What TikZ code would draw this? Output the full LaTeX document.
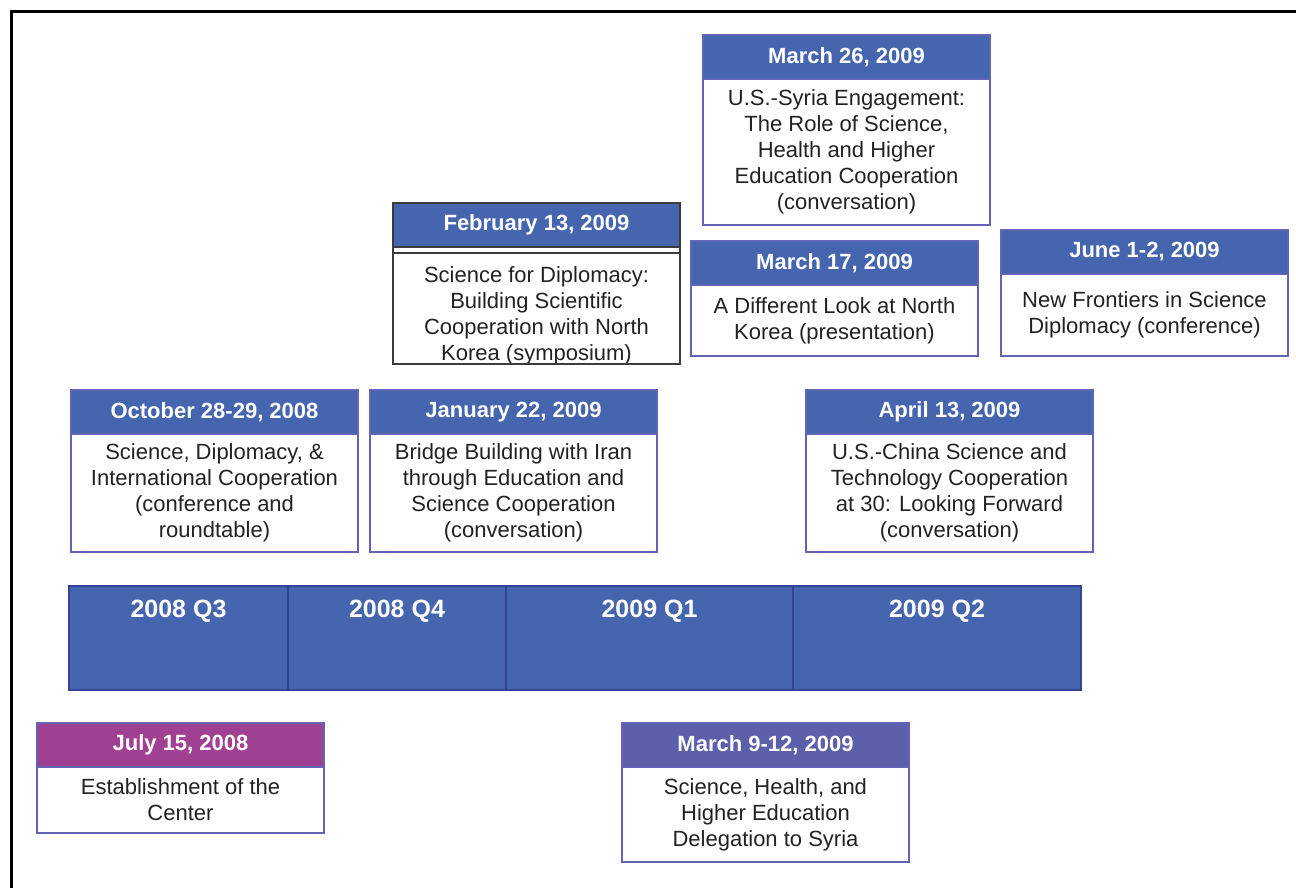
\documentclass[tikz,border=0pt]{standalone}
\usepackage{fontspec}
\setmainfont{Liberation Sans}
\usetikzlibrary{positioning}
\definecolor{hdrblue}{RGB}{69,101,174}
\definecolor{edgeblue}{RGB}{98,100,182}
\definecolor{banddark}{RGB}{52,66,152}
\definecolor{hdrmagenta}{RGB}{160,64,146}
\definecolor{hdrviolet}{RGB}{92,96,170}
\definecolor{bodygray}{RGB}{34,34,34}
\definecolor{febedge}{RGB}{60,60,60}
\newcommand{\datefont}{\fontsize{22}{26}\selectfont\bfseries}
\newcommand{\bodyfont}{\fontsize{22}{26}\selectfont}
\newcommand{\quarterfont}{\fontsize{25}{30}\selectfont\bfseries}
\tikzset{
  datehead/.style={draw=edgeblue,line width=2pt,fill=hdrblue,text=white,font=\datefont,
    minimum width=287pt,minimum height=44pt,inner sep=0pt,outer sep=0pt,anchor=north west},
  eventbody/.style={draw=edgeblue,line width=2pt,fill=white,text=bodygray,font=\bodyfont,
    align=center,minimum width=287pt,inner sep=0pt,outer sep=0pt},
  quarter/.style={draw=banddark,line width=2pt,fill=hdrblue,text=white,font=\quarterfont,
    inner sep=0pt,outer sep=0pt,text height=31pt,text depth=73pt}
}

\begin{document}
\begin{tikzpicture}[x=1pt,y=1pt]
  \useasboundingbox (0,0) rectangle (1296,-888);
  \draw[line width=3.2pt] (1296,-11.5) -- (11.5,-11.5) -- (11.5,-888);

  \node[quarter,minimum width=219pt,anchor=north west] (q3) at (69,-586) {2008 Q3};
  \node[quarter,minimum width=218pt] (q4) [right=0pt of q3] {2008 Q4};
  \node[quarter,minimum width=287pt] (q1) [right=0pt of q4] {2009 Q1};
  \node[quarter,minimum width=288pt] (q2) [right=0pt of q1] {2009 Q2};

  \node[datehead] (mar26) at (703,-35) {March 26, 2009};
  \node[eventbody,minimum height=146pt] (mar26body) [below=0pt of mar26]
    {U.S.-Syria Engagement:\\The Role of Science,\\Health and Higher\\Education Cooperation\\(conversation)};

  \node[datehead,draw=febedge] (feb13) at (393,-203) {February 13, 2009};
  \node[eventbody,draw=febedge,minimum height=111pt] (feb13body) [below=6pt of feb13] {};
  \begin{scope}
    \clip (feb13body.north west) rectangle (feb13body.south east);
    \node[font=\bodyfont,text=bodygray,align=center,inner sep=0pt,yshift=-7pt] (feb13text) at (feb13body.center)
      {Science for Diplomacy:\\Building Scientific\\Cooperation with North\\Korea (symposium)};
  \end{scope}
  \draw[febedge,line width=2.5pt] (feb13.north west) rectangle (feb13body.south east);

  \node[datehead] (mar17) at (691,-241) {March 17, 2009};
  \node[eventbody,minimum height=71pt] (mar17body) [below=0pt of mar17]
    {A Different Look at North\\Korea (presentation)};

  \node[datehead] (jun) at (1001,-230) {June 1-2, 2009};
  \node[eventbody,minimum height=82pt] (junbody) [below=0pt of jun]
    {New Frontiers in Science\\Diplomacy (conference)};

  \node[datehead] (oct) at (71,-390) {October 28-29, 2008};
  \node[eventbody,minimum height=118pt] (octbody) [below=0pt of oct]
    {Science, Diplomacy, \&\\International Cooperation\\(conference and\\roundtable)};

  \node[datehead] (jan) at (370,-390) {January 22, 2009};
  \node[eventbody,minimum height=118pt] (janbody) [below=0pt of jan]
    {Bridge Building with Iran\\through Education and\\Science Cooperation\\(conversation)};

  \node[datehead] (apr) at (806,-390) {April 13, 2009};
  \node[eventbody,minimum height=118pt] (aprbody) [below=0pt of apr]
    {U.S.-China Science and\\Technology Cooperation\\at 30: Looking Forward\\(conversation)};

  \node[datehead,fill=hdrmagenta] (jul) at (37,-723) {July 15, 2008};
  \node[eventbody,minimum height=66pt] (julbody) [below=0pt of jul]
    {Establishment of the\\Center};

  \node[datehead,fill=hdrviolet] (mar9) at (622,-723) {March 9-12, 2009};
  \node[eventbody,minimum height=95pt] (mar9body) [below=0pt of mar9]
    {Science, Health, and\\Higher Education\\Delegation to Syria};
\end{tikzpicture}
\end{document}
